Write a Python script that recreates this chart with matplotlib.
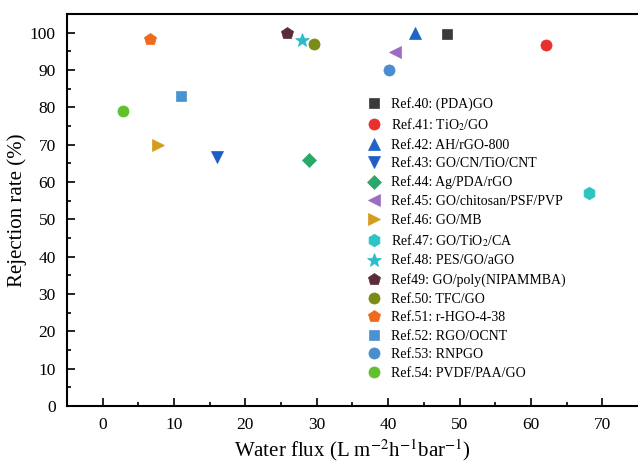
import numpy as np
import matplotlib as mpl
mpl.use('Agg')
import matplotlib.pyplot as plt

plt.rcParams["font.family"] = "Liberation Serif"
plt.rcParams["mathtext.fontset"] = "stix"

# data
labels = ["Ref.40: (PDA)GO", "Ref.41: TiO$_2$/GO", "Ref.42: AH/rGO-800",
          "Ref.43: GO/CN/TiO/CNT", "Ref.44: Ag/PDA/rGO", "Ref.45: GO/chitosan/PSF/PVP",
          "Ref.46: GO/MB", "Ref.47: GO/TiO$_2$/CA", "Ref.48: PES/GO/aGO",
          "Ref49: GO/poly(NIPAMMBA)", "Ref.50: TFC/GO", "Ref.51: r-HGO-4-38",
          "Ref.52: RGO/OCNT", "Ref.53: RNPGO", "Ref.54: PVDF/PAA/GO"]
flux = [48.3, 62.1, 43.8, 16.0, 28.9, 40.9, 7.8, 68.2, 27.9, 25.8, 29.6, 6.6, 11.0, 40.1, 2.8]
rejection = [99.7, 96.8, 100.0, 66.7, 65.9, 94.9, 69.9, 57.1, 98.0, 99.8, 97.0, 98.4, 82.9, 89.9, 78.9]

markers = ['s', 'o', '^', 'v', 'D', '<', '>', 'h', '*', 'p', 'o', 'p', 's', 'o', 'o']
colors = ['#3a3a3c', '#e8312f', '#1f62c8', '#1f5cc4', '#2aa86a', '#9a6cc4', '#d49b1c',
          '#2cc4c4', '#2cbcc8', '#5a2c38', '#7c8a16', '#f06a1e', '#4a92d2', '#4a8cd0', '#62c02e']
sizes = [7, 8, 8.5, 8.5, 7.5, 8.5, 8.5, 9, 10, 9, 8, 9, 7, 8, 8]

fig = plt.figure(figsize=(6.38, 4.65), dpi=100)
ax = fig.add_axes([0.105, 0.127, 0.895, 0.843])

for i in range(len(labels)):
    ax.plot(flux[i], rejection[i], linestyle='none', marker=markers[i], color=colors[i],
            markersize=sizes[i], markeredgewidth=0.5, label=labels[i])

ax.set_xlim(-5, 75)
ax.set_ylim(0, 105)
ax.set_xticks(np.arange(0, 71, 10))
ax.set_xticks(np.arange(-5, 75, 5), minor=True)
ax.set_yticks(np.arange(0, 101, 10))
ax.set_yticks(np.arange(5, 105, 5), minor=True)
ax.tick_params(which='both', direction='in', labelsize=12.5, width=1.2)
ax.tick_params(which='major', length=6, pad=8)
ax.tick_params(which='minor', length=3)
for s in ['left', 'bottom', 'top']:
    ax.spines[s].set_linewidth(1.5)
ax.spines['right'].set_visible(False)

ax.set_xlabel("Water flux (L m$^{-2}$h$^{-1}$bar$^{-1}$)", fontsize=15, labelpad=3)
ax.set_ylabel("Rejection rate (%)", fontsize=15, labelpad=2)

ax.legend(loc='upper left', bbox_to_anchor=(0.562, 0.807), bbox_transform=fig.transFigure,
          frameon=False, fontsize=10, labelspacing=0.4, handletextpad=0.6,
          handlelength=1.2, borderpad=0)

plt.savefig('out.png', dpi=100)
